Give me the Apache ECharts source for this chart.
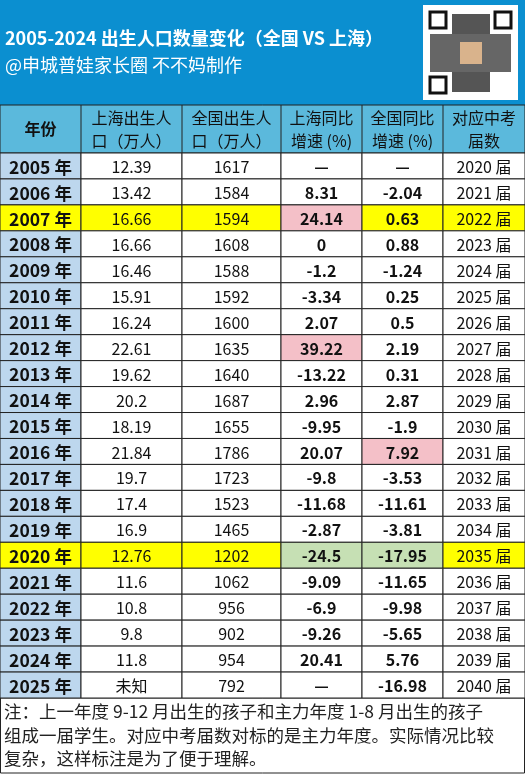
<!DOCTYPE html>
<html><head><meta charset="utf-8">
<script src="https://cdn.jsdelivr.net/npm/echarts@6/dist/echarts.min.js"></script>
<style>html,body{margin:0;padding:0;background:#fff}#c{width:525px;height:774px}</style>
</head><body><div id="c"></div>
<script>
var years = ['2005 年','2006 年','2007 年','2008 年','2009 年','2010 年','2011 年','2012 年','2013 年','2014 年','2015 年','2016 年','2017 年','2018 年','2019 年','2020 年','2021 年','2022 年','2023 年','2024 年','2025 年'];
var shBirth = ['12.39','13.42','16.66','16.66','16.46','15.91','16.24','22.61','19.62','20.2','18.19','21.84','19.7','17.4','16.9','12.76','11.6','10.8','9.8','11.8','未知'];
var cnBirth = ['1617','1584','1594','1608','1588','1592','1600','1635','1640','1687','1655','1786','1723','1523','1465','1202','1062','956','902','954','792'];
var shYoy = ['—','8.31','24.14','0','-1.2','-3.34','2.07','39.22','-13.22','2.96','-9.95','20.07','-9.8','-11.68','-2.87','-24.5','-9.09','-6.9','-9.26','20.41','—'];
var cnYoy = ['—','-2.04','0.63','0.88','-1.24','0.25','0.5','2.19','0.31','2.87','-1.9','7.92','-3.53','-11.61','-3.81','-17.95','-11.65','-9.98','-5.65','5.76','-16.98'];
var examYear = ['2020 届','2021 届','2022 届','2023 届','2024 届','2025 届','2026 届','2027 届','2028 届','2029 届','2030 届','2031 届','2032 届','2033 届','2034 届','2035 届','2036 届','2037 届','2038 届','2039 届','2040 届'];
var headers = ['年份','上海出生人\n口（万人）','全国出生人\n口（万人）','上海同比\n增速 (%)','全国同比\n增速 (%)','对应中考\n届数'];
var yellowRows = ['2007 年','2020 年'];
var pinkCells = [[3,'2007 年'],[3,'2012 年'],[4,'2016 年']];
var greenCells = [[3,'2020 年'],[4,'2020 年']];

var colEdges = [0, 81, 182, 281, 362, 443, 525];
var cols = [years, shBirth, cnBirth, shYoy, cnYoy, examYear];
var FONT = '"Noto Sans CJK SC", sans-serif';

var data = [];
years.forEach(function (y, r) {
  cols.forEach(function (c, ci) { data.push([ci, y, c[r]]); });
});

function cellFill(ci, y) {
  var key = function (a) { return a[0] === ci && a[1] === y; };
  if (greenCells.some(key)) return '#c6e0b4';
  if (pinkCells.some(key)) return '#f4c0c8';
  if (yellowRows.indexOf(y) >= 0) return '#ffff00';
  if (ci === 0) return '#bdd7ee';
  return '#ffffff';
}

var chart = echarts.init(document.getElementById('c'));
chart.setOption({
  animation: false,
  grid: { left: 0, right: 0, top: 153, bottom: 76 },
  xAxis: { type: 'value', min: 0, max: 525, show: false },
  yAxis: { type: 'category', data: years, inverse: true, show: false },
  graphic: [
    { type: 'rect', shape: { x: 0, y: 0, width: 525, height: 105 }, style: { fill: '#0b8fd0' } },
    { type: 'text', left: 5, top: 29, style: { text: '2005-2024 出生人口数量变化（全国 VS 上海）', fill: '#fff', font: 'bold 18px ' + FONT } },
    { type: 'text', left: 5, top: 56, style: { text: '@申城普娃家长圈 不不妈制作', fill: '#fff', font: '18px ' + FONT } },
    { type: 'rect', shape: { x: 423, y: 5, width: 95, height: 95 }, style: { fill: '#fff' } },
    { type: 'rect', shape: { x: 430, y: 12, width: 16, height: 16 }, style: { fill: '#fff', stroke: '#111', lineWidth: 3 } },
    { type: 'rect', shape: { x: 495, y: 12, width: 16, height: 16 }, style: { fill: '#fff', stroke: '#111', lineWidth: 3 } },
    { type: 'rect', shape: { x: 430, y: 77, width: 16, height: 16 }, style: { fill: '#fff', stroke: '#111', lineWidth: 3 } },
    { type: 'rect', shape: { x: 452, y: 14, width: 38, height: 78 }, style: { fill: '#555' } },
    { type: 'rect', shape: { x: 430, y: 34, width: 81, height: 38 }, style: { fill: '#666' } },
    { type: 'rect', shape: { x: 460, y: 42, width: 22, height: 22 }, style: { fill: '#d9b38c' } },
    { type: 'rect', shape: { x: 0, y: 105, width: 525, height: 48 }, style: { fill: '#5bb9dc', stroke: '#222', lineWidth: 1 } },
    { type: 'group', children: headers.map(function (h, i) {
      return { type: 'text', x: (colEdges[i] + colEdges[i + 1]) / 2, y: 129,
        style: { text: h, fill: '#111', font: (i === 0 ? 'bold ' : '') + '16px ' + FONT, align: 'center', verticalAlign: 'middle', lineHeight: 23 } };
    }) },
    { type: 'group', children: colEdges.slice(1, 6).map(function (x) {
      return { type: 'line', shape: { x1: x, y1: 105, x2: x, y2: 153 }, style: { stroke: '#222', lineWidth: 1 } };
    }) },
    { type: 'rect', shape: { x: 0.5, y: 698, width: 524, height: 75 }, style: { fill: '#fff', stroke: '#222', lineWidth: 1 } },
    { type: 'text', left: 4, top: 700, style: { text: '注：上一年度 9-12 月出生的孩子和主力年度 1-8 月出生的孩子\n组成一届学生。对应中考届数对标的是主力年度。实际情况比较\n复杂，这样标注是为了便于理解。', fill: '#222', font: '17.5px ' + FONT, lineHeight: 23.5 } }
  ],
  series: [{
    type: 'custom',
    data: data,
    encode: { x: 0, y: 1 },
    renderItem: function (params, api) {
      var ci = api.value(0);
      var item = data[params.dataIndex];
      var p = api.coord([0, item[1]]);
      var h = api.size([0, 1])[1];
      var x0 = api.coord([colEdges[ci], item[1]])[0];
      var x1 = api.coord([colEdges[ci + 1], item[1]])[0];
      var bold = ci === 0 || ci === 3 || ci === 4;
      var size = ci === 0 ? 17.5 : 16;
      return { type: 'group', children: [
        { type: 'rect', shape: { x: x0, y: p[1] - h / 2, width: x1 - x0, height: h },
          style: { fill: cellFill(ci, item[1]), stroke: '#222', lineWidth: 1 } },
        { type: 'text', style: { text: item[2], x: (x0 + x1) / 2, y: p[1] + 1, align: 'center', verticalAlign: 'middle',
          fill: '#111', font: (bold ? 'bold ' : '') + size + 'px ' + FONT } }
      ] };
    }
  }]
});
</script></body></html>
